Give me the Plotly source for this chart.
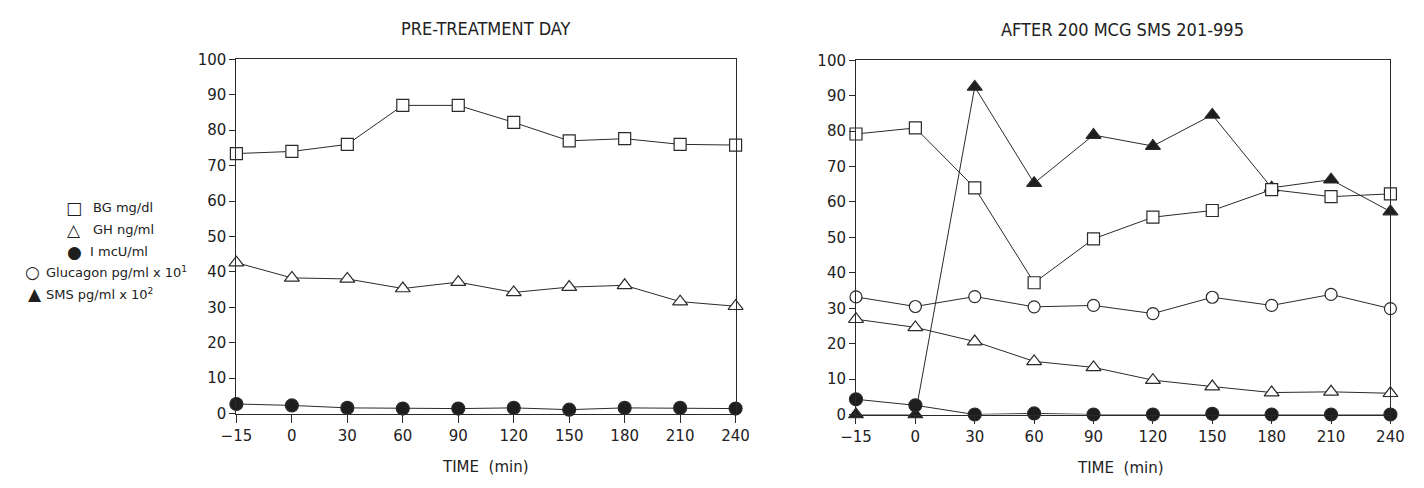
import plotly.graph_objects as go

# ---- data ----
time_labels = ["−15", "0", "30", "60", "90", "120", "150", "180", "210", "240"]
y_ticks = [0, 10, 20, 30, 40, 50, 60, 70, 80, 90, 100]

pre_bg = [73.4, 74.0, 76.0, 87.0, 87.0, 82.2, 77.0, 77.6, 76.0, 75.8]
pre_gh = [42.6, 38.3, 38.0, 35.3, 37.1, 34.2, 35.7, 36.2, 31.6, 30.3]
pre_i = [2.7, 2.3, 1.6, 1.4, 1.4, 1.6, 1.1, 1.6, 1.6, 1.4]

post_bg = [79.2, 80.9, 64.0, 37.2, 49.6, 55.7, 57.6, 63.5, 61.5, 62.3]
post_sms = [0, 0, 92.5, 65.3, 78.9, 75.8, 84.6, 64.0, 66.3, 57.3]
post_glu = [33.2, 30.5, 33.3, 30.4, 30.8, 28.5, 33.1, 30.8, 33.9, 29.9]
post_gh = [26.9, 24.6, 20.6, 15.0, 13.3, 9.7, 7.9, 6.2, 6.4, 6.0]
post_i = [4.3, 2.6, 0.0, 0.3, 0.0, 0.0, 0.2, 0.0, 0.0, 0.0]

LINE = "#2a2a2a"
FONT = "DejaVu Sans, Liberation Sans, sans-serif"

# page body has an 8px margin; the figure fills the rest of the window
OFF = 8
W, H = 1424 - OFF, 488 - OFF


def X(px):
    return (px - OFF) / W


def Y(py):
    return 1 - (py - OFF) / H


fig = go.Figure()


def add(x_axis, y_axis, ys, symbol, fill, size):
    fig.add_trace(go.Scatter(
        x=time_labels, y=ys, xaxis=x_axis, yaxis=y_axis,
        mode="lines+markers", cliponaxis=False, showlegend=False,
        line=dict(color=LINE, width=1),
        marker=dict(symbol=symbol, size=size, color=fill,
                    line=dict(color=LINE, width=1.2)),
    ))


# left panel
add("x", "y", pre_bg, "square", "white", 12)
add("x", "y", pre_gh, "triangle-up", "white", 13)
add("x", "y", pre_i, "circle", "#1e1e1e", 13)

# right panel
add("x2", "y2", post_sms, "triangle-up", "#1e1e1e", 13)
add("x2", "y2", post_bg, "square", "white", 12)
add("x2", "y2", post_glu, "circle", "white", 12)
add("x2", "y2", post_gh, "triangle-up", "white", 13)
add("x2", "y2", post_i, "circle", "#1e1e1e", 13)

axis_common = dict(showgrid=False, zeroline=False, showline=True, mirror=True,
                   linecolor=LINE, linewidth=1, ticks="outside", tickcolor=LINE,
                   tickfont=dict(family=FONT, size=15, color="#222"))

xcommon = dict(axis_common, type="category", categoryorder="array",
               categoryarray=time_labels, range=[0, 9], ticklen=8)
ycommon = dict(axis_common, range=[0, 100], tickvals=y_ticks, ticklen=6)

fig.update_layout(
    width=W, height=H,
    margin=dict(l=0, r=0, t=0, b=0),
    paper_bgcolor="white", plot_bgcolor="white",
    xaxis=dict(xcommon, domain=[X(225), X(735)], anchor="y"),
    yaxis=dict(ycommon, domain=[Y(420), Y(52)], anchor="x"),
    xaxis2=dict(xcommon, domain=[X(858), X(1404)], anchor="y2"),
    yaxis2=dict(ycommon, domain=[Y(421), Y(53)], anchor="x2"),
)

ann = []


def note(text, px, py, font, xanchor="center"):
    ann.append(dict(text=text, x=X(px), y=Y(py), xref="paper", yref="paper",
                    xanchor=xanchor, yanchor="middle", showarrow=False, font=font))


TITLE_FONT = dict(family="Liberation Sans Narrow, DejaVu Sans Condensed, Arial Narrow, sans-serif",
                  size=18, color="#222")
note("PRE-TREATMENT DAY", 480, 20, TITLE_FONT)
note("AFTER 200 MCG SMS 201-995", 1130, 21, TITLE_FONT)

AX_FONT = dict(family=FONT, size=15, color="#222")
note("TIME  (min)", 479, 476, AX_FONT)
note("TIME  (min)", 1128, 477, AX_FONT)

LEG_FONT = dict(family=FONT, size=13, color="#222")
SYM_FONT = dict(family="DejaVu Sans, sans-serif", size=17, color="#1e1e1e")
legend_syms = [
    (59, 206, "□"),
    (59, 229, "△"),
    (60, 252, "●"),
    (17, 273, "○"),
    (19, 296, "▲"),
]
legend_texts = [
    (76, 206, "BG mg/dl"),
    (76, 229, "GH ng/ml"),
    (73, 252, "I mcU/ml"),
    (28, 273, "Glucagon pg/ml x 10<sup>1</sup>"),
    (28, 296, "SMS pg/ml x 10<sup>2</sup>"),
]
for sx, sy, sym in legend_syms:
    note(sym, sx, sy, SYM_FONT)
for lx, ly, txt in legend_texts:
    note(txt, lx, ly, LEG_FONT, xanchor="left")

fig.update_layout(annotations=ann)

fig.write_html("out.html")
